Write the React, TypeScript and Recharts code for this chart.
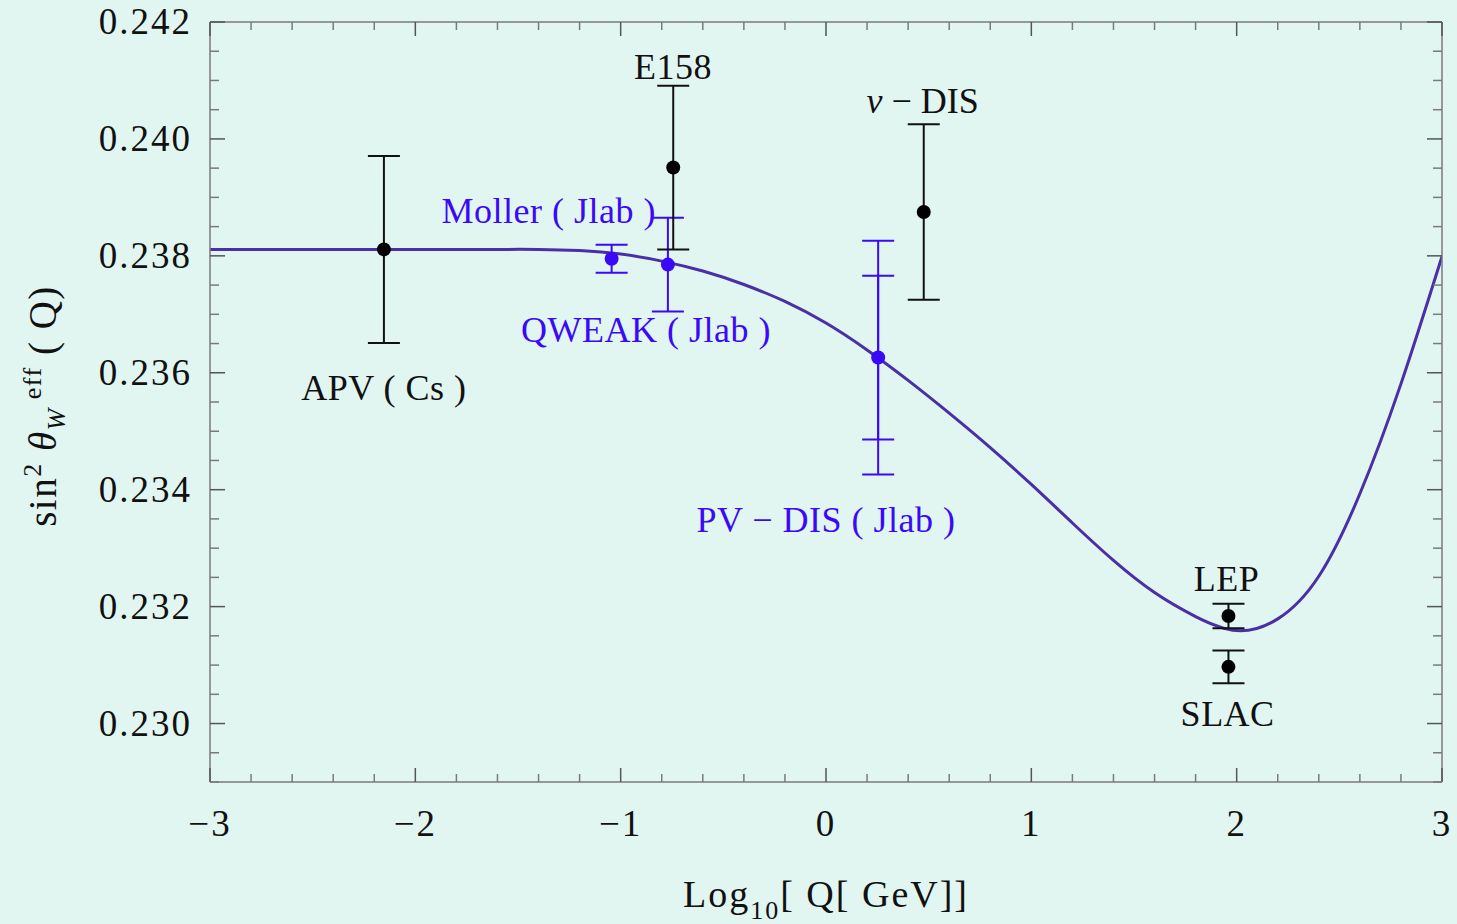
import React from "react";
import { ComposedChart, Line, Scatter, XAxis, YAxis, ErrorBar } from "recharts";

// ---------- data ----------
const curveX = [-3, -2.8, -2.6, -2.4, -2.2, -2, -1.8, -1.6, -1.4, -1.2, -1, -0.8, -0.6, -0.4, -0.2, 0, 0.2, 0.4, 0.6, 0.8, 1, 1.2, 1.4, 1.6, 1.8, 2, 2.2, 2.4, 2.6, 2.8, 3];
const curveY = [0.23811, 0.23811, 0.23811, 0.23811, 0.23811, 0.23811, 0.23811, 0.23811, 0.23811, 0.23809, 0.23803, 0.23791, 0.23774, 0.23751, 0.23722, 0.23685, 0.23639, 0.23587, 0.23531, 0.23472, 0.23409, 0.23343, 0.23279, 0.23224, 0.23183, 0.23159, 0.23179, 0.23252, 0.23393, 0.23581, 0.23799];

const blackNames = ["APV ( Cs )", "E158", "ν − DIS", "LEP", "SLAC"];
const blackX = [-2.153, -0.744, 0.476, 1.96, 1.96];
const blackY = [0.23811, 0.23951, 0.23875, 0.23184, 0.23097];
const blackErr = [0.0016, 0.0014, 0.0015, 0.00021, 0.00028];

const blueNames = ["Moller ( Jlab )", "QWEAK ( Jlab )", "PV − DIS ( Jlab )"];
const blueX = [-1.044, -0.77, 0.254];
const blueY = [0.23795, 0.23785, 0.23626];
const blueErr = [0.00024, 0.0008, 0.002];
const pvdisInnerErr = [0.0014];

const labelTexts = ["E158", "ν − DIS", "Moller ( Jlab )", "QWEAK ( Jlab )", "APV ( Cs )", "PV − DIS ( Jlab )", "LEP", "SLAC"];
const labelX = [-0.745, 0.471, -1.35, -0.877, -2.153, 0.0, 1.951, 1.956];
const labelY = [0.24103, 0.24045, 0.23857, 0.23652, 0.23554, 0.23327, 0.23226, 0.22995];
const labelBlue = [false, false, true, true, false, true, false, false];

const xMajorTicks = [-3, -2, -1, 0, 1, 2, 3];
const yMajorTicks = [0.23, 0.232, 0.234, 0.236, 0.238, 0.24, 0.242];
const xTicks = Array.from({ length: 31 }, (_, i) => Math.round((-3 + i * 0.2) * 10) / 10);
const yTicks = Array.from({ length: 27 }, (_, i) => Math.round((0.229 + i * 0.0005) * 10000) / 10000);

// ---------- style ----------
const BG = "#E2F6F1";
const CURVE = "#4A2FA6";
const BLUE = "#3A0AF8";
const FRAME = "#7a7a7a";
const MAJOR = "#555555";
const FONT = "'Liberation Serif', 'DejaVu Serif', serif";

const curveData = curveX.map((x, i) => ({ x, y: curveY[i] }));
const blackData = blackX.map((x, i) => ({ x, y: blackY[i], err: blackErr[i], name: blackNames[i] }));
const blueData = blueX.map((x, i) => ({ x, y: blueY[i], err: blueErr[i], name: blueNames[i] }));
const innerData = [{ x: blueX[2], y: blueY[2], err: pvdisInnerErr[0] }];
const labelData = labelTexts.map((t, i) => ({ x: labelX[i], y: labelY[i], text: t, blue: labelBlue[i] }));

const isMajorX = (v: number) => xMajorTicks.some((m) => Math.abs(m - v) < 1e-6);
const isMajorY = (v: number) => yMajorTicks.some((m) => Math.abs(m - v) < 1e-7);
const fmtX = (v: number) => (v < 0 ? "−" + Math.abs(Math.round(v)) : String(Math.round(v)));

const BottomTick = (p: any) => {
  const { x, y, payload } = p;
  const major = isMajorX(payload.value);
  return (
    <g>
      <line x1={x} x2={x} y1={y} y2={y - (major ? 14 : 8)} stroke={major ? MAJOR : FRAME} strokeWidth={1.5} />
      {major && (
        <text x={x} y={y + 54} textAnchor="middle" fontSize={37} fontFamily={FONT} fill="#111" letterSpacing={2}>
          {fmtX(payload.value)}
        </text>
      )}
    </g>
  );
};
const TopTick = (p: any) => {
  const { x, y, payload } = p;
  const major = isMajorX(payload.value);
  return <line x1={x} x2={x} y1={y} y2={y + (major ? 14 : 8)} stroke={major ? MAJOR : FRAME} strokeWidth={1.5} />;
};
const LeftTick = (p: any) => {
  const { x, y, payload } = p;
  const major = isMajorY(payload.value);
  return (
    <g>
      <line x1={x} x2={x + (major ? 15 : 9)} y1={y} y2={y} stroke={major ? MAJOR : FRAME} strokeWidth={1.5} />
      {major && (
        <text x={x - 18} y={y + 12} textAnchor="end" fontSize={37} fontFamily={FONT} fill="#111" letterSpacing={2}>
          {payload.value.toFixed(3)}
        </text>
      )}
    </g>
  );
};
const RightTick = (p: any) => {
  const { x, y, payload } = p;
  const major = isMajorY(payload.value);
  return <line x1={x} x2={x - (major ? 15 : 9)} y1={y} y2={y} stroke={major ? MAJOR : FRAME} strokeWidth={1.5} />;
};

const Dot = (color: string) => (p: any) => <circle cx={p.cx} cy={p.cy} r={7} fill={color} />;
const NoDot = () => <g />;
const LabelShape = (p: any) => {
  const d = p.payload || p;
  const t: string = d.text;
  const fill = d.blue ? BLUE : "#111";
  if (t.startsWith("ν")) {
    return (
      <text x={p.cx} y={p.cy} textAnchor="middle" fontSize={36} fontFamily={FONT} fill={fill}>
        <tspan fontStyle="italic">ν</tspan>
        {t.slice(1)}
      </text>
    );
  }
  return (
    <text x={p.cx} y={p.cy} textAnchor="middle" fontSize={36} fontFamily={FONT} fill={fill} letterSpacing={0.5}>
      {t}
    </text>
  );
};

export default function App() {
  return (
    <div style={{ position: "absolute", left: 0, top: 0, width: 1457, height: 924, background: BG }}>
      <ComposedChart width={1457} height={924} margin={{ top: 21, right: 14, bottom: 0, left: 0 }}>
        <XAxis
          xAxisId={0}
          dataKey="x"
          type="number"
          domain={[-3, 3]}
          allowDataOverflow
          ticks={xTicks}
          interval={0}
          tickSize={0}
          tickMargin={0}
          height={142}
          axisLine={{ stroke: FRAME, strokeWidth: 1.5 }}
          tickLine={false}
          tick={BottomTick}
        />
        <XAxis
          xAxisId="top"
          orientation="top"
          dataKey="x"
          type="number"
          domain={[-3, 3]}
          allowDataOverflow
          ticks={xTicks}
          interval={0}
          tickSize={0}
          tickMargin={0}
          height={1}
          axisLine={{ stroke: FRAME, strokeWidth: 1.5 }}
          tickLine={false}
          tick={TopTick}
        />
        <YAxis
          yAxisId={0}
          type="number"
          domain={[0.229, 0.242]}
          allowDataOverflow
          ticks={yTicks}
          interval={0}
          tickSize={0}
          tickMargin={0}
          width={210}
          axisLine={{ stroke: FRAME, strokeWidth: 1.5 }}
          tickLine={false}
          tick={LeftTick}
        />
        <YAxis
          yAxisId="right"
          orientation="right"
          type="number"
          domain={[0.229, 0.242]}
          allowDataOverflow
          ticks={yTicks}
          interval={0}
          tickSize={0}
          tickMargin={0}
          width={1}
          axisLine={{ stroke: FRAME, strokeWidth: 1.5 }}
          tickLine={false}
          tick={RightTick}
        />
        <Line
          data={curveData}
          dataKey="y"
          type="natural"
          stroke={CURVE}
          strokeWidth={3}
          dot={false}
          activeDot={false}
          isAnimationActive={false}
        />
        <Scatter data={innerData} dataKey="y" shape={NoDot} isAnimationActive={false}>
          <ErrorBar dataKey="err" direction="y" width={16} stroke={BLUE} strokeWidth={2} />
        </Scatter>
        <Scatter data={blueData} dataKey="y" shape={Dot(BLUE)} isAnimationActive={false}>
          <ErrorBar dataKey="err" direction="y" width={16} stroke={BLUE} strokeWidth={2} />
        </Scatter>
        <Scatter data={blackData} dataKey="y" shape={Dot("#000")} isAnimationActive={false}>
          <ErrorBar dataKey="err" direction="y" width={16} stroke="#111" strokeWidth={2} />
        </Scatter>
        <Scatter data={labelData} dataKey="y" shape={LabelShape} isAnimationActive={false} />
      </ComposedChart>
      <svg width={1457} height={924} style={{ position: "absolute", left: 0, top: 0, pointerEvents: "none" }}>
        <text x={826} y={907} textAnchor="middle" fontSize={38} fontFamily={FONT} fill="#111" letterSpacing={2}>
          Log
          <tspan dy={12} fontSize={26}>10</tspan>
          <tspan dy={-12}>[ Q[ GeV]]</tspan>
        </text>
        <text transform="translate(56,406) rotate(-90)" textAnchor="middle" fontSize={39} fontFamily={FONT} fill="#111" letterSpacing={1.5}>
          sin
          <tspan dy={-15} fontSize={26}>2</tspan>
          <tspan dy={15}> </tspan>
          <tspan fontStyle="italic">θ</tspan>
          <tspan dy={9} fontSize={26} fontStyle="italic">W</tspan>
          <tspan dy={-24} fontSize={26}> eff</tspan>
          <tspan dy={15}> ( Q)</tspan>
        </text>
      </svg>
    </div>
  );
}
